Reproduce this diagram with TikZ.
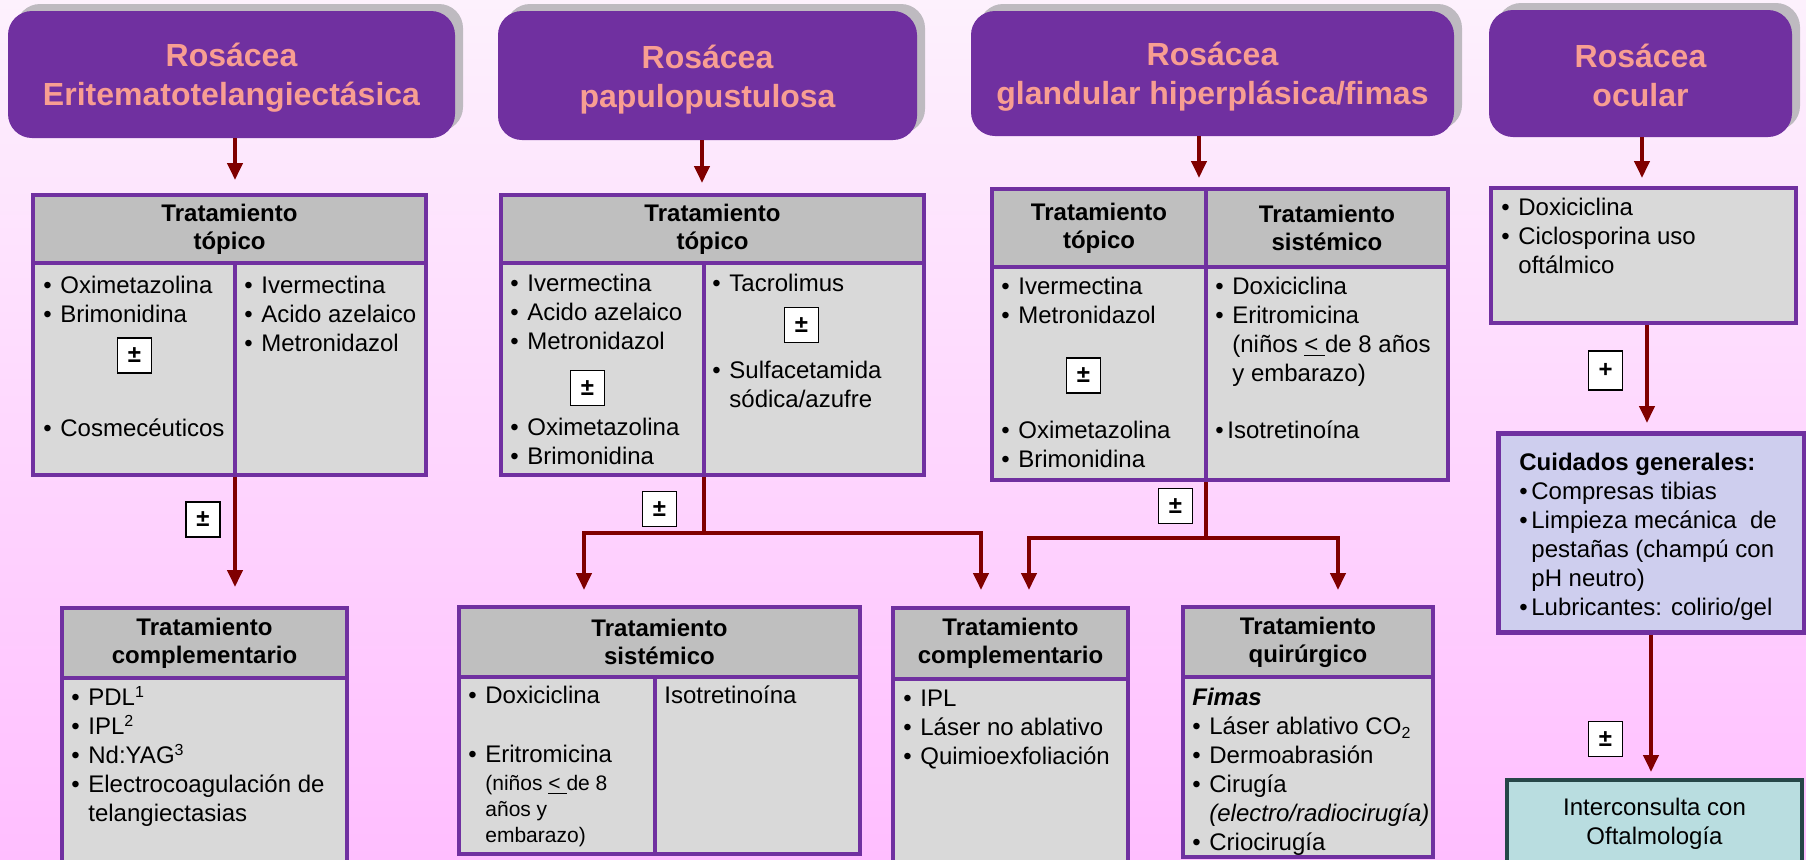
\documentclass[tikz,border=0pt]{standalone}
\usepackage{fontspec}
\setmainfont{Liberation Sans}
\usetikzlibrary{arrows.meta,fit}
\definecolor{purp}{RGB}{112,48,160}
\definecolor{shadowgray}{RGB}{190,186,192}
\definecolor{salmon}{RGB}{248,158,146}
\definecolor{headgray}{RGB}{191,191,191}
\definecolor{cellgray}{RGB}{217,217,217}
\definecolor{arrowred}{RGB}{128,0,0}
\definecolor{lav}{RGB}{206,206,238}
\definecolor{teal}{RGB}{185,221,224}
\definecolor{slate}{RGB}{38,70,72}
\definecolor{bgtop}{RGB}{253,241,253}
\definecolor{bgmid}{RGB}{254,226,254}
\definecolor{bgbot}{RGB}{255,190,255}
\begin{document}
\begin{tikzpicture}[x=0.5pt,y=-0.5pt,
    hshadow/.style={fill=shadowgray,rounded corners=12pt,inner sep=0pt},
    hdr/.style={fill=purp,rounded corners=12pt,inner sep=0pt},
    htitle/.style={text=salmon,align=center,inner sep=0pt,font=\fontsize{16}{19.5}\selectfont\bfseries},
    thead/.style={fill=headgray,draw=purp,line width=2pt,inner sep=0pt},
    htext/.style={align=center,inner sep=0pt,font=\fontsize{12}{14}\selectfont\bfseries},
    tcell/.style={fill=cellgray,draw=purp,line width=2pt,inner sep=0pt},
    lst/.style={anchor=north west,align=left,inner sep=0pt,font=\fontsize{12}{14.5}\selectfont},
    pm/.style={draw=black,fill=white,line width=0.8pt,minimum width=17pt,minimum height=17.5pt,
      inner sep=0pt,font=\fontsize{12}{12}\selectfont\bfseries},
    ln/.style={draw=arrowred,line width=2pt},
    arr/.style={ln,-{Triangle[length=8.5pt,width=7.5pt]}}]
   \newcommand{\itm}[1]{\makebox[8.5pt][l]{\textbullet}#1}
   \newcommand{\itmt}[1]{\makebox[6pt][l]{\textbullet}#1}
   \newcommand{\indt}{\hspace*{8.5pt}}
  \useasboundingbox (0,0) rectangle (1806,859);
  \clip (0,0) rectangle (1806,859);
  \fill[top color=bgtop,middle color=bgmid,bottom color=bgbot] (0,0) rectangle (1806,859);

  \node[hshadow,fit={(16,4) (463,131)}] (h1s) {};
  \node[hdr,fit={(8,11) (455,138)}] (h1) {};
  \node[htitle] (h1t) at (231.5,77.5) {Rosácea\\Eritematotelangiectásica};
  \node[hshadow,fit={(506,4) (925,133)}] (h2s) {};
  \node[hdr,fit={(498,11) (917,140)}] (h2) {};
  \node[htitle] (h2t) at (707.5,80) {Rosácea\\papulopustulosa};
  \node[hshadow,fit={(979,4) (1462,129)}] (h3s) {};
  \node[hdr,fit={(971,11) (1454,136)}] (h3) {};
  \node[htitle] (h3t) at (1212.5,77) {Rosácea\\glandular hiperplásica/fimas};
  \node[hshadow,fit={(1497,3) (1800,130)}] (h4s) {};
  \node[hdr,fit={(1489,10) (1792,137)}] (h4) {};
  \node[htitle] (h4t) at (1640.5,75) {Rosácea\\ocular};

  \node[thead,fit={(33,195) (426,263)}] (t1h) {};
  \node[htext] (t1ht) at (t1h.center) {Tratamiento\\tópico};
  \node[tcell,fit={(33,263) (235,475)}] (t1l) {};
  \node[tcell,fit={(235,263) (426,475)}] (t1r) {};
  \node[lst] (t1la) at (43,273) {\strut\itm{Oximetazolina}\\\itm{Brimonidina}};
  \node[lst] (t1lb) at (43,416) {\strut\itm{Cosmecéuticos}};
  \node[lst] (t1ra) at (244,273) {\strut\itm{Ivermectina}\\\itm{Acido azelaico}\\\itm{Metronidazol}};
  \node[pm] (p1a) at (134.5,355.5) {±};

  \node[thead,fit={(501,195) (924,263)}] (t2h) {};
  \node[htext] (t2ht) at (t2h.center) {Tratamiento\\tópico};
  \node[tcell,fit={(501,263) (704,475)}] (t2l) {};
  \node[tcell,fit={(704,263) (924,475)}] (t2r) {};
  \node[lst] (t2la) at (510,271) {\strut\itm{Ivermectina}\\\itm{Acido azelaico}\\\itm{Metronidazol}};
  \node[lst] (t2lb) at (510,415) {\strut\itm{Oximetazolina}\\\itm{Brimonidina}};
  \node[lst] (t2ra) at (712,271) {\strut\itm{Tacrolimus}};
  \node[lst] (t2rb) at (712,358) {\strut\itm{Sulfacetamida}\\\indt sódica/azufre};
  \node[pm] (p2a) at (587.5,388) {±};
  \node[pm] (p2b) at (801.5,325) {±};

  \node[thead,fit={(992,189) (1206,267)}] (t3hl) {};
  \node[htext] (t3hlt) at (t3hl.center) {Tratamiento\\tópico};
  \node[thead,fit={(1206,189) (1448,267)}] (t3hr) {};
  \node[htext] (t3hrt) at (t3hr.center) {Tratamiento\\sistémico};
  \node[tcell,fit={(992,267) (1206,480)}] (t3l) {};
  \node[tcell,fit={(1206,267) (1448,480)}] (t3r) {};
  \node[lst] (t3la) at (1001,274) {\strut\itm{Ivermectina}\\\itm{Metronidazol}};
  \node[lst] (t3lb) at (1001,418) {\strut\itm{Oximetazolina}\\\itm{Brimonidina}};
  \node[lst] (t3ra) at (1215,274) {\strut\itm{Doxiciclina}\\\itm{Eritromicina}\\
    \indt(niños \underline{<\ }de 8 años\\\indt y embarazo)};
  \node[lst] (t3rb) at (1215,418) {\strut\itmt{Isotretinoína}};
  \node[pm] (p3a) at (1083.5,375.5) {±};

  \node[tcell,fit={(1491,188) (1796,323)}] (t4) {};
  \node[lst] (t4a) at (1501,195) {\strut\itm{Doxiciclina}\\\itm{Ciclosporina uso}\\\indt oftálmico};

  \node[thead,fit={(62,608) (347,678)}] (c1h) {};
  \node[htext] (c1ht) at (c1h.center) {Tratamiento\\complementario};
  \node[tcell,fit={(62,678) (347,880)}] (c1b) {};
  \node[lst] (c1a) at (71,685) {\strut\itm{PDL\textsuperscript{1}}\\\itm{IPL\textsuperscript{2}}\\
    \itm{Nd:YAG\textsuperscript{3}}\\\itm{Electrocoagulación de}\\\indt telangiectasias};

  \node[thead,fit={(459,607) (860,677)}] (s2h) {};
  \node[htext] (s2ht) at (s2h.center) {Tratamiento\\sistémico};
  \node[tcell,fit={(459,677) (655,854)}] (s2l) {};
  \node[tcell,fit={(655,677) (860,854)}] (s2r) {};
  \node[lst] (s2la) at (468,683) {\strut\itm{Doxiciclina}};
  \node[lst] (s2lb) at (468,742) {\strut\itm{Eritromicina}};
  \node[lst,font=\fontsize{10.5}{13}\selectfont] (s2lc) at (485,772)
    {\strut(niños \underline{<\ }de 8\\años y\\embarazo)};
  \node[lst] (s2ra) at (664,683) {\strut Isotretinoína};

  \node[thead,fit={(893,608) (1128,679)}] (c2h) {};
  \node[htext] (c2ht) at (c2h.center) {Tratamiento\\complementario};
  \node[tcell,fit={(893,679) (1128,880)}] (c2b) {};
  \node[lst] (c2a) at (903,686) {\strut\itm{IPL}\\\itm{Láser no ablativo}\\\itm{Quimioexfoliación}};

  \node[thead,fit={(1183,607) (1433,677)}] (qh) {};
  \node[htext] (qht) at (qh.center) {Tratamiento\\quirúrgico};
  \node[tcell,fit={(1183,677) (1433,857)}] (qb) {};
  \node[lst] (qa) at (1192,685) {\strut\textbf{\textit{Fimas}}\\\itm{Láser ablativo CO\textsubscript{2}}\\
    \itm{Dermoabrasión}\\\itm{Cirugía}\\\indt\textit{(electro/radiocirugía)}\\\itm{Criocirugía}};

  \node[fill=lav,draw=purp,line width=2.5pt,inner sep=0pt,fit={(1498,433) (1804,632)}] (cg) {};
  \node[lst] (cga) at (1519,450) {\strut\textbf{Cuidados generales:}\\\itmt{Compresas tibias}\\
    \itmt{Limpieza mecánica\ \ de}\\\hspace*{6pt}pestañas (champú con\\\hspace*{6pt}pH neutro)\\
    \itmt{Lubricantes: colirio/gel}};

  \node[fill=teal,draw=slate,line width=2pt,inner sep=0pt,fit={(1507,780) (1802,880)}] (ic) {};
  \node[align=center,inner sep=0pt,font=\fontsize{12}{14.5}\selectfont] (ict) at (1654.5,824)
    {Interconsulta con\\Oftalmología};

  \coordinate (a1) at (235,180);
  \coordinate (a2) at (702,183);
  \coordinate (a3) at (1199,178);
  \coordinate (a4) at (1642,178);
  \draw[arr] (h1.south -| a1) -- (a1);
  \draw[arr] (h2.south -| a2) -- (a2);
  \draw[arr] (h3.south -| a3) -- (a3);
  \draw[arr] (h4.south -| a4) -- (a4);

  \coordinate (c1in) at (235,587);
  \draw[arr] (c1in |- t1l.south) -- (c1in);
  \node[pm] (p1b) at (203,519.5) {±};

  \coordinate (j2) at (704,533);
  \coordinate (s2in) at (584,590);
  \coordinate (c2in) at (981,590);
  \draw[ln] (j2 |- t2l.south) -- (j2);
  \draw[arr] (j2) -| (s2in);
  \draw[arr] (j2) -| (c2in);
  \node[pm] (p2c) at (659.5,509) {±};

  \coordinate (j3) at (1206,538);
  \coordinate (c2in2) at (1029,590);
  \coordinate (qin) at (1338,590);
  \draw[ln] (j3 |- t3l.south) -- (j3);
  \draw[arr] (j3) -| (c2in2);
  \draw[arr] (j3) -| (qin);
  \node[pm] (p3b) at (1175.5,506) {±};

  \coordinate (cgin) at (1647,423);
  \draw[arr] (t4.south -| cgin) -- (cgin);
  \node[pm,minimum height=19.5pt] (p4a) at (1605.5,370.5) {+};
  \coordinate (icin) at (1651,772);
  \draw[arr] (cg.south -| icin) -- (icin);
  \node[pm] (p4b) at (1605.5,739) {±};
\end{tikzpicture}
\end{document}
